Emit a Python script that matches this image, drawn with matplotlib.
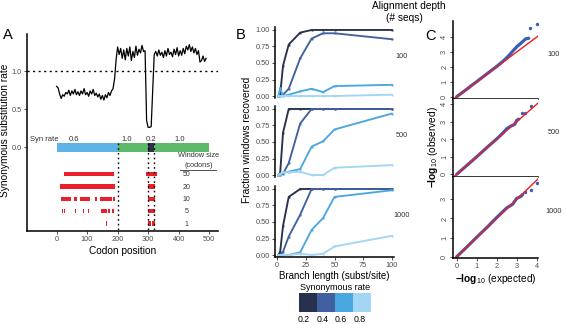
import numpy as np
import matplotlib.pyplot as plt
from matplotlib.patches import Rectangle

plt.rcParams['font.family'] = ['Liberation Sans', 'DejaVu Sans']
plt.rcParams['mathtext.fontset'] = 'custom'
plt.rcParams['mathtext.rm'] = 'Liberation Sans'
plt.rcParams['mathtext.bf'] = 'Liberation Sans:bold'

# ================================
# Data
# ================================
# panel A: sliding window rate along the gene (every 5 codons)
codons = np.arange(0, 495, 5)
syn_rate = [0.80, 0.78, 0.70, 0.64, 0.69, 0.67, 0.72, 0.70, 0.75, 0.68,
            0.74, 0.70, 0.76, 0.69, 0.73, 0.68, 0.74, 0.70, 0.77, 0.69,
            0.72, 0.67, 0.74, 0.70, 0.76, 0.68, 0.71, 0.66, 0.70, 0.63,
            0.68, 0.62, 0.69, 0.65, 0.72, 0.68, 0.74, 0.77, 0.90, 1.15,
            1.32, 1.22, 1.30, 1.17, 1.28, 1.15, 1.30, 1.20, 1.32, 1.14,
            1.26, 1.18, 1.33, 1.21, 1.29, 1.24, 1.34, 1.26, 1.27, 0.35,
            0.26, 0.26, 0.27, 0.75, 1.22, 1.26, 1.20, 1.28, 1.21, 1.25,
            1.18, 1.27, 1.20, 1.30, 1.22, 1.25, 1.19, 1.29, 1.22, 1.31,
            1.20, 1.27, 1.21, 1.30, 1.23, 1.33, 1.28, 1.35, 1.26, 1.32,
            1.24, 1.30, 1.22, 1.27, 1.12, 1.14, 1.20, 1.13, 1.17]

block_start = [0, 200, 300, 320]
block_end = [200, 300, 320, 500]
block_rate = ['0.6', '1.0', '0.2', '1.0']
block_label_x = [57, 230, 311, 404]
block_color = ['#5cb3e6', '#5dba6a', '#2b3147', '#5dba6a']

window_sizes = [50, 20, 10, 5, 1]
win_50 = [(25, 189), (294, 330)]
win_20 = [(11, 193), (300, 324)]
win_10 = [(14, 46), (56, 67), (76, 108), (125, 134), (142, 180), (185, 192),
          (298, 322)]
win_5 = [(18, 21), (24, 27), (33, 35), (61, 63), (87, 90), (103, 106),
         (128, 130), (145, 164), (168, 176), (183, 188), (300, 322)]
win_1 = [(163, 165), (299, 310), (312, 322)]
win_segments = [win_50, win_20, win_10, win_5, win_1]

# panel B: fraction of windows recovered
branch = [1, 2.5, 5, 10, 20, 30, 40, 50, 100]
rate_labels = ['0.2', '0.4', '0.6', '0.8']
rate_colors = ['#27314d', '#41609f', '#4aa7df', '#a2d6f3']
depths = ['100', '500', '1000']
rec_100 = [[0.0, 0.02, 0.46, 0.78, 0.96, 1.0, 1.0, 1.0, 1.0],
           [0.0, 0.0, 0.02, 0.11, 0.57, 0.87, 0.95, 0.95, 0.86],
           [0.0, 0.12, 0.0, 0.02, 0.07, 0.11, 0.06, 0.15, 0.17],
           [0.0, 0.0, 0.0, 0.0, 0.0, 0.0, 0.0, 0.0, 0.02]]
rec_500 = [[0.0, 0.03, 0.64, 1.0, 1.0, 1.0, 1.0, 1.0, 1.0],
           [0.0, 0.0, 0.02, 0.18, 0.78, 1.0, 1.0, 1.0, 1.0],
           [0.0, 0.0, 0.03, 0.05, 0.09, 0.43, 0.51, 0.69, 0.93],
           [0.0, 0.02, 0.04, 0.04, 0.05, 0.0, 0.0, 0.11, 0.15]]
rec_1000 = [[0.0, 0.05, 0.44, 0.88, 1.0, 1.0, 1.0, 1.0, 1.0],
            [0.0, 0.0, 0.05, 0.28, 0.61, 1.0, 1.0, 1.0, 1.0],
            [0.0, 0.0, 0.0, 0.0, 0.04, 0.38, 0.56, 0.88, 0.98],
            [0.0, 0.0, 0.0, 0.0, 0.02, 0.0, 0.02, 0.13, 0.29]]
recovered = [rec_100, rec_500, rec_1000]

# panel C: QQ plots (-log10 p)
qq_exp_100 = [0, 0.25, 0.5, 0.75, 1.0, 1.25, 1.5, 1.75, 2.0, 2.2, 2.4, 2.6,
              2.8, 3.0, 3.15, 3.3, 3.45, 3.6]
qq_obs_100 = [0, 0.25, 0.5, 0.76, 1.01, 1.27, 1.52, 1.78, 2.03, 2.25, 2.48,
              2.75, 3.05, 3.35, 3.52, 3.7, 3.88, 3.92]
tail_exp_100 = [3.67, 4.0]
tail_obs_100 = [4.58, 4.85]
qq_exp_500 = [0, 0.5, 1.0, 1.5, 2.0, 2.3, 2.5, 2.7, 2.8, 2.9, 3.0, 3.1]
qq_obs_500 = [0, 0.5, 1.0, 1.52, 2.02, 2.35, 2.6, 2.75, 2.8, 2.85, 3.08, 3.15]
tail_exp_500 = [3.25, 3.4, 3.7]
tail_obs_500 = [3.5, 3.5, 3.9]
qq_exp_1000 = [0, 0.5, 1.0, 1.5, 2.0, 2.5, 2.8, 2.9, 3.0, 3.2, 3.3]
qq_obs_1000 = [0, 0.5, 1.02, 1.52, 2.05, 2.55, 2.75, 2.9, 3.05, 3.15, 3.25]
tail_exp_1000 = [3.42, 3.7, 4.0]
tail_obs_1000 = [3.4, 3.5, 3.85]

# ================================
# Layout helpers (pixel boxes)
# ================================
W, H = 566, 324
TICK_GREY = '#4d4d4d'


def box(l, t, r, b):
    return [l / W, 1 - b / H, (r - l) / W, (b - t) / H]


def fx(x):
    return x / W


def fy(y):
    return 1 - y / H


def style_axis(ax, bottom=True):
    for side in ['top', 'right']:
        ax.spines[side].set_visible(False)
    ax.spines['left'].set_linewidth(1.1)
    ax.spines['bottom'].set_linewidth(1.1)
    ax.spines['bottom'].set_visible(bottom)
    ax.tick_params(length=2, width=0.6, pad=1.5, labelsize=5.3,
                   labelcolor=TICK_GREY, color='#333333')


fig = plt.figure(figsize=(W / 100, H / 100), dpi=100)

# ================================
# Panel A
# ================================
axA = fig.add_axes(box(27, 34, 218, 231))
style_axis(axA)
axA.plot(codons, syn_rate, color='black', lw=0.9)
axA.axhline(1.0, color='black', ls=(0, (1.5, 2.5)), lw=1.0)
axA.set_xlim(-97, 529)
axA.set_ylim(-1.105, 1.49)
axA.set_xticks([0, 100, 200, 300, 400, 500])
axA.set_yticks([0.0, 0.5, 1.0])
axA.set_yticklabels(['0.0', '0.5', '1.0'])
axA.set_xlabel('Codon position', fontsize=7.3, labelpad=2)

for s, e, c in zip(block_start, block_end, block_color):
    axA.add_patch(Rectangle((s, -0.07), e - s, 0.12, color=c, lw=0))
axA.text(-87, 0.105, 'Syn rate', fontsize=5.5, color='#333333', va='center')
for xpos, r in zip(block_label_x, block_rate):
    axA.text(xpos, 0.105, r, fontsize=5.5, color='#333333', ha='center',
             va='center')
for xv in [200, 300, 320]:
    axA.plot([xv, xv], [0.05, -1.105], color='black', ls=(0, (1.2, 2.2)),
             lw=1.0)

axA.text(466, -0.115, 'Window size', fontsize=5.3, color='#333333',
         ha='center', va='center')
axA.text(466, -0.245, '(codons)', fontsize=5.3, color='#333333',
         ha='center', va='center')
axA.plot([405, 523], [-0.305, -0.305], color='#333333', lw=0.6)
for i, (wsize, segs) in enumerate(zip(window_sizes, win_segments)):
    yrow = -0.355 - 0.1625 * i
    axA.broken_barh([(s, e - s) for s, e in segs], (yrow - 0.028, 0.056),
                    color='#e8202a', lw=0)
    axA.text(426, yrow - 0.01, str(wsize), fontsize=5.0, color='#333333',
             ha='center', va='center')

fig.text(fx(5.5), fy(130), 'Synonymous substitution rate', rotation=90,
         fontsize=7.3, ha='center', va='center')
fig.text(fx(8), fy(35), 'A', fontsize=10.5, ha='center', va='center')

# ================================
# Panel B
# ================================
b_rows = [(27, 98), (106, 177), (186, 257)]
for i, (t, b) in enumerate(b_rows):
    ax = fig.add_axes(box(275, t, 394, b))
    style_axis(ax, bottom=(i == 2))
    for vals, col in zip(recovered[i], rate_colors):
        ax.plot(branch, vals, color=col, lw=1.35, marker='s', ms=1.4,
                mew=0)
    ax.set_xlim(-2, 102)
    ax.set_ylim(-0.03, 1.045)
    ax.set_yticks([0, 0.25, 0.5, 0.75, 1.0])
    ax.set_yticklabels(['0.00', '0.25', '0.50', '0.75', '1.00'])
    ax.set_xticks([0, 25, 50, 75, 100])
    if i < 2:
        ax.tick_params(axis='x', bottom=False, labelbottom=False)
    else:
        ax.set_xlabel('Branch length (subst/site)', fontsize=7, labelpad=1.5)
    fig.text(fx(402), fy((t + b) / 2 - 6), depths[i], fontsize=5.3,
             color='#333333', ha='center', va='center')

fig.text(fx(247), fy(140), 'Fraction windows recovered', rotation=90,
         fontsize=7.3, ha='center', va='center')
fig.text(fx(241), fy(35), 'B', fontsize=10.5, ha='center', va='center')
fig.text(fx(409), fy(6), 'Alignment depth', fontsize=7.3, ha='center',
         va='center')
fig.text(fx(404), fy(18), '(# seqs)', fontsize=7.3, ha='center',
         va='center')

# legend for synonymous rate
fig.text(fx(335), fy(287), 'Synonymous rate', fontsize=6.5, ha='center',
         va='center')
axL = fig.add_axes(box(299, 293, 371, 312))
axL.set_xlim(0, 4)
axL.set_ylim(0, 1)
axL.axis('off')
for k, (lab, col) in enumerate(zip(rate_labels, rate_colors)):
    axL.add_patch(Rectangle((k, 0), 1, 1, color=col, lw=0))
    fig.text(fx(304 + 18.5 * k), fy(319.5), lab, fontsize=6.3,
             ha='center', va='center')

# ================================
# Panel C
# ================================
c_rows = [(21, 99, (-0.154, 5.08), [0, 1, 2, 3, 4]),
          (99, 177, (-0.154, 4.3), [0, 1, 2, 3, 4]),
          (177, 258, (-0.068, 4.17), [0, 1, 2, 3])]
qq_exp = [qq_exp_100, qq_exp_500, qq_exp_1000]
qq_obs = [qq_obs_100, qq_obs_500, qq_obs_1000]
tail_exp = [tail_exp_100, tail_exp_500, tail_exp_1000]
tail_obs = [tail_obs_100, tail_obs_500, tail_obs_1000]
for i, (t, b, ylim, yt) in enumerate(c_rows):
    ax = fig.add_axes(box(453, t, 538, b))
    style_axis(ax)
    ax.plot(qq_exp[i], qq_obs[i], color='#3a5cb4', lw=2.3,
            solid_capstyle='round')
    ax.scatter(tail_exp[i], tail_obs[i], color='#3a5cb4', s=6, lw=0)
    ax.plot([-0.2, 4.3], [-0.2, 4.3], color='#ec1c24', lw=1.0)
    ax.set_xlim(-0.185, 4.065)
    ax.set_ylim(*ylim)
    ax.set_xticks([0, 1, 2, 3, 4])
    ax.set_yticks(yt)
    ax.tick_params(axis='y', labelrotation=90)
    for lab in ax.get_yticklabels():
        lab.set_va('center')
    if i < 2:
        ax.tick_params(axis='x', labelbottom=False)
    else:
        ax.set_xlabel(r'$\mathbf{-log}_{10}$ (expected)', fontsize=7.3,
                      labelpad=1.5)
    fig.text(fx(554), fy((t + b) / 2 - 6), depths[i], fontsize=5.3,
             color='#333333', ha='center', va='center')

fig.text(fx(433), fy(147), r'$\mathbf{-log}_{10}$ (observed)', rotation=90,
         fontsize=7.3, ha='center', va='center')
fig.text(fx(430), fy(36), 'C', fontsize=10.5, ha='center', va='center')

fig.savefig('out.png', dpi=100)
